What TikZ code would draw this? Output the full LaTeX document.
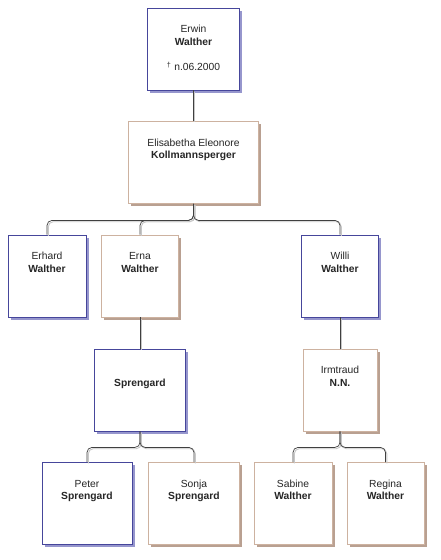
\documentclass[tikz,border=0pt]{standalone}
\usepackage{fontspec}
\setmainfont{Liberation Sans}
\usetikzlibrary{shadows}
\definecolor{maleline}{RGB}{70,70,155}
\definecolor{maleshade}{RGB}{150,150,205}
\definecolor{femaleline}{RGB}{205,178,160}
\definecolor{femaleshade}{RGB}{185,160,145}

\begin{document}
\begin{tikzpicture}[x=1pt,y=-1pt]
	\tikzset{person/.style = {fill=white, line width=0.8pt, minimum height=82pt, inner sep=0pt}}
	\tikzset{man/.style = {person, draw=maleline, drop shadow={shadow xshift=2.5pt, shadow yshift=-2.5pt, fill=maleshade, opacity=1}}}
	\tikzset{woman/.style = {person, draw=femaleline, drop shadow={shadow xshift=2.5pt, shadow yshift=-2.5pt, fill=femaleshade, opacity=1}}}
	\tikzset{nametext/.style = {anchor=north, yshift=-16.2pt, inner sep=0pt, align=center, text=black!85, font=\fontsize{10.3}{12.5}\selectfont}}
	\tikzset{link/.style = {draw=black!75, line width=0.7pt, rounded corners=5pt,
	    preaction={draw=black!22, line width=0.9pt, transform canvas={shift={(1.3pt,-1.3pt)}}}}}

	\fill[white] (0,0) rectangle (440,560);
	\useasboundingbox (0,0) rectangle (440,560);

	% persons
	\node[man, minimum width=92pt] (erwin) at (193.5,49) {};
	\node[woman, minimum width=130pt] (elisabetha) at (193.5,162.5) {};
	\node[man, minimum width=78pt] (erhard) at (47,276) {};
	\node[woman, minimum width=77pt] (erna) at (140,276) {};
	\node[man, minimum width=77pt] (willi) at (340,276) {};
	\node[man, minimum width=91pt] (sprengard) at (140,390) {};
	\node[woman, minimum width=74pt] (irmtraud) at (340,390) {};
	\node[man, minimum width=90pt] (peter) at (87,503.5) {};
	\node[woman, minimum width=91pt] (sonja) at (194,503.5) {};
	\node[woman, minimum width=78pt] (sabine) at (293,503.5) {};
	\node[woman, minimum width=77pt] (regina) at (385.5,503.5) {};

	% names
	\node[nametext] (erwin-t) at (erwin.north) {\strut Erwin\\\textbf{Walther}\\[13pt]\textsuperscript{\textdagger} n.06.2000};
	\node[nametext] (elisabetha-t) at (elisabetha.north) {\strut Elisabetha Eleonore\\\textbf{Kollmannsperger}};
	\node[nametext] (erhard-t) at (erhard.north) {\strut Erhard\\\textbf{Walther}};
	\node[nametext] (erna-t) at (erna.north) {\strut Erna\\\textbf{Walther}};
	\node[nametext] (willi-t) at (willi.north) {\strut Willi\\\textbf{Walther}};
	\node[nametext] (sprengard-t) at (sprengard.north) {\strut\\\textbf{Sprengard}};
	\node[nametext] (irmtraud-t) at (irmtraud.north) {\strut Irmtraud\\\textbf{N.N.}};
	\node[nametext] (peter-t) at (peter.north) {\strut Peter\\\textbf{Sprengard}};
	\node[nametext] (sonja-t) at (sonja.north) {\strut Sonja\\\textbf{Sprengard}};
	\node[nametext] (sabine-t) at (sabine.north) {\strut Sabine\\\textbf{Walther}};
	\node[nametext] (regina-t) at (regina.north) {\strut Regina\\\textbf{Walther}};

	% links
	\draw[link] (erwin.south) -- (elisabetha.north);
	\draw[link] (elisabetha.south) -- ++(0,16.5) -| (erhard.north);
	\draw[link] (elisabetha.south) -- ++(0,16.5) -| (erna.north);
	\draw[link] (elisabetha.south) -- ++(0,16.5) -| (willi.north);
	\draw[link] (erna.south) -- (sprengard.north);
	\draw[link] (willi.south) -- (irmtraud.north);
	\draw[link] (sprengard.south) -- ++(0,16) -| (peter.north);
	\draw[link] (sprengard.south) -- ++(0,16) -| (sonja.north);
	\draw[link] (irmtraud.south) -- ++(0,16) -| (sabine.north);
	\draw[link] (irmtraud.south) -- ++(0,16) -| (regina.north);
\end{tikzpicture}
\end{document}
